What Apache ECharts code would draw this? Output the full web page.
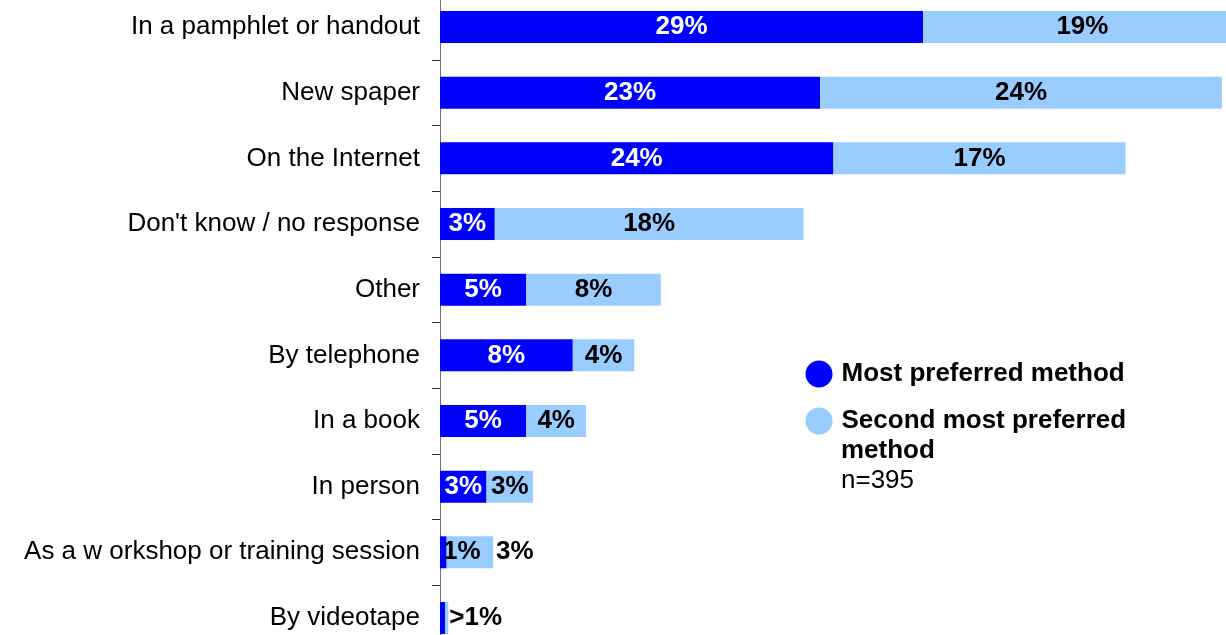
<!DOCTYPE html>
<html>
<head>
<meta charset="utf-8">
<script src="https://cdn.jsdelivr.net/npm/echarts@6/dist/echarts.min.js"></script>
<style>
html,body{margin:0;padding:0;background:#fff;}
#chart{width:1226px;height:635px;}
</style>
</head>
<body>
<div id="chart"></div>
<script>
const categories = ['In a pamphlet or handout', 'New spaper', 'On the Internet', "Don't know / no response", 'Other', 'By telephone', 'In a book', 'In person', 'As a w orkshop or training session', 'By videotape'];
const mostPreferred = [29.1, 22.9, 23.7, 3.3, 5.2, 8.0, 5.2, 2.8, 0.4, 0.3];
const secondPreferred = [19.2, 24.2, 17.6, 18.6, 8.1, 3.7, 3.6, 2.8, 2.8, 0.2];
const mostLabels = ['29%', '23%', '24%', '3%', '5%', '8%', '5%', '3%', '1%', ''];
const secondLabels = ['19%', '24%', '17%', '18%', '8%', '4%', '4%', '3%', '3%', '>1%'];
const seriesNames = ['Most preferred method', 'Second most preferred'];
const noteLines = ['method', 'n=395'];

const FONT = "'Liberation Sans', Arial, sans-serif";

const mostData = mostPreferred.map((v, i) => {
  const d = { value: v };
  if (i === 8) {
    d.label = { position: [3, '50%'], align: 'left', verticalAlign: 'middle', color: '#000' };
  }
  return d;
});
const secondData = secondPreferred.map((v, i) => {
  const d = { value: v };
  if (i >= 8) {
    d.label = { position: 'right', distance: i === 8 ? 3 : 1 };
  }
  return d;
});

const chart = echarts.init(document.getElementById('chart'), null, { renderer: 'canvas' });
chart.setOption({
  animation: false,
  backgroundColor: '#ffffff',
  textStyle: { fontFamily: FONT },
  grid: { left: 440, right: -44, top: -5.8, bottom: -15.8, containLabel: false, outerBoundsMode: 'none' },
  xAxis: { type: 'value', min: 0, max: 50, show: false },
  yAxis: {
    type: 'category',
    data: categories,
    inverse: true,
    axisLine: { show: true, lineStyle: { color: '#707070', width: 1 } },
    axisTick: { show: true, length: 8, lineStyle: { color: '#303030' } },
    axisLabel: { color: '#000', fontSize: 26, fontFamily: FONT, margin: 20 },
    splitLine: { show: false }
  },
  legend: {
    orient: 'vertical',
    left: 800.5,
    top: 355.5,
    icon: 'circle',
    itemWidth: 35,
    itemHeight: 27,
    itemGap: 20,
    data: seriesNames,
    textStyle: { fontSize: 26, fontWeight: 'bold', color: '#000', fontFamily: FONT, lineHeight: 27 },
    selectedMode: false
  },
  graphic: [
    { type: 'text', left: 841, top: 438, style: { text: noteLines[0], fontSize: 26, fontWeight: 'bold', fill: '#000', fontFamily: FONT } },
    { type: 'text', left: 841, top: 468, style: { text: noteLines[1], fontSize: 26, fill: '#000', fontFamily: FONT } }
  ],
  series: [
    {
      name: seriesNames[0],
      type: 'bar',
      stack: 'total',
      barWidth: 32,
      itemStyle: { color: '#0000FF' },
      label: {
        show: true, position: 'inside', color: '#fff', fontSize: 26, fontWeight: 'bold', fontFamily: FONT,
        formatter: p => mostLabels[p.dataIndex]
      },
      data: mostData
    },
    {
      name: seriesNames[1],
      type: 'bar',
      stack: 'total',
      barWidth: 32,
      itemStyle: { color: '#99CCFF' },
      label: {
        show: true, position: 'inside', color: '#000', fontSize: 26, fontWeight: 'bold', fontFamily: FONT,
        formatter: p => secondLabels[p.dataIndex]
      },
      data: secondData
    }
  ]
});
</script>
</body>
</html>
